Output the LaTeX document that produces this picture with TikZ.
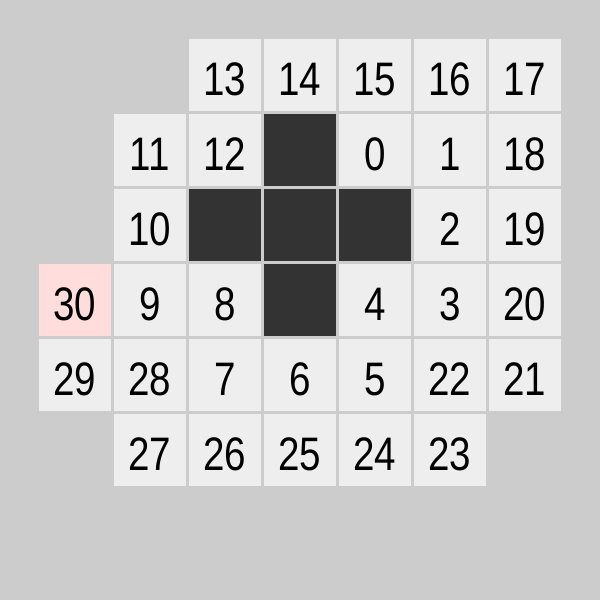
\documentclass[tikz,border=0pt]{standalone}
\usepackage{fontspec}
\setmainfont{Liberation Sans}
\definecolor{bgc}{HTML}{CCCCCC}
\definecolor{cellc}{HTML}{EEEEEE}
\definecolor{darkc}{HTML}{333333}
\definecolor{pinkc}{HTML}{FFDDDD}
\tikzset{
  cellbox/.style={fill=cellc, draw=none},
  darkbox/.style={fill=darkc, draw=none},
  pinkbox/.style={fill=pinkc, draw=none},
  numlabel/.style={anchor=base, inner sep=0pt, font=\fontsize{47}{47}\selectfont, text=black}
}
\newcommand{\mycell}[4]{% col, row, style, label
  \fill[#3] ({39+75*#1},{39+75*#2}) rectangle ++(72,72);
  \node[numlabel] (n#4) at ({75+75*#1},{95+75*#2}) {\scalebox{0.82}[1]{#4}};
}
\newcommand{\mydark}[2]{%
  \fill[darkbox] ({39+75*#1},{39+75*#2}) rectangle ++(72,72);
}
\begin{document}
\begin{tikzpicture}[x=1pt,y=-1pt]
\fill[bgc] (0,0) rectangle (600,600);
\useasboundingbox (0,0) rectangle (600,600);
% row 0
\mycell{2}{0}{cellbox}{13}
\mycell{3}{0}{cellbox}{14}
\mycell{4}{0}{cellbox}{15}
\mycell{5}{0}{cellbox}{16}
\mycell{6}{0}{cellbox}{17}
% row 1
\mycell{1}{1}{cellbox}{11}
\mycell{2}{1}{cellbox}{12}
\mydark{3}{1}
\mycell{4}{1}{cellbox}{0}
\mycell{5}{1}{cellbox}{1}
\mycell{6}{1}{cellbox}{18}
% row 2
\mycell{1}{2}{cellbox}{10}
\mydark{2}{2}
\mydark{3}{2}
\mydark{4}{2}
\mycell{5}{2}{cellbox}{2}
\mycell{6}{2}{cellbox}{19}
% row 3
\mycell{0}{3}{pinkbox}{30}
\mycell{1}{3}{cellbox}{9}
\mycell{2}{3}{cellbox}{8}
\mydark{3}{3}
\mycell{4}{3}{cellbox}{4}
\mycell{5}{3}{cellbox}{3}
\mycell{6}{3}{cellbox}{20}
% row 4
\mycell{0}{4}{cellbox}{29}
\mycell{1}{4}{cellbox}{28}
\mycell{2}{4}{cellbox}{7}
\mycell{3}{4}{cellbox}{6}
\mycell{4}{4}{cellbox}{5}
\mycell{5}{4}{cellbox}{22}
\mycell{6}{4}{cellbox}{21}
% row 5
\mycell{1}{5}{cellbox}{27}
\mycell{2}{5}{cellbox}{26}
\mycell{3}{5}{cellbox}{25}
\mycell{4}{5}{cellbox}{24}
\mycell{5}{5}{cellbox}{23}
\end{tikzpicture}
\end{document}
